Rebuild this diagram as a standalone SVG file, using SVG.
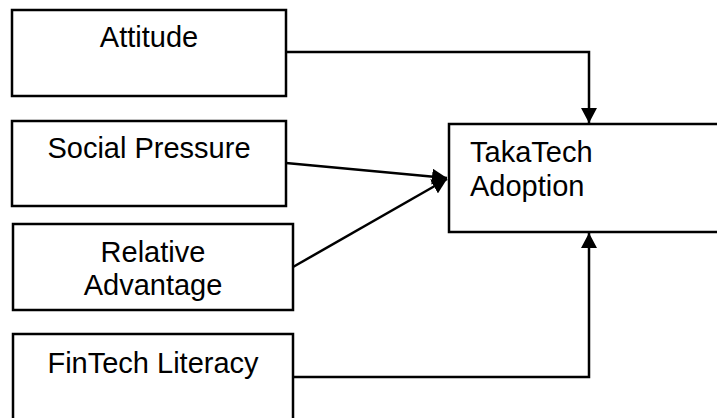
<svg xmlns="http://www.w3.org/2000/svg" width="717" height="418" viewBox="0 0 717 418">
<style>
.box{fill:#fff;stroke:#000;stroke-width:2.5}
.t{font-family:"Liberation Sans",Arial,sans-serif;font-size:29px;fill:#000}
.c{text-anchor:middle}
.ln{fill:none;stroke:#000;stroke-width:2.5}
</style>
<defs>
<marker id="ah" markerWidth="15" markerHeight="16" refX="15" refY="8" orient="auto" markerUnits="userSpaceOnUse">
<path d="M0,0 L15,8 L0,16 Z" fill="#000"/>
</marker>
</defs>
<rect width="717" height="418" fill="#fff"/>
<g id="connectors">
<path class="ln" d="M286,52 H589 V123" marker-end="url(#ah)"/>
<path class="ln" d="M293,377 H589 V233" marker-end="url(#ah)"/>
<path class="ln" d="M286,163 L447,178" marker-end="url(#ah)"/>
<path class="ln" d="M293,267 L447,179" marker-end="url(#ah)"/>
</g>
<g id="attitude">
<rect class="box" x="12" y="10" width="274" height="86"/>
<text class="t c" x="149" y="47">Attitude</text>
</g>
<g id="social-pressure">
<rect class="box" x="12" y="121" width="274" height="85"/>
<text class="t c" x="149" y="158">Social Pressure</text>
</g>
<g id="relative-advantage">
<rect class="box" x="13" y="224" width="280" height="86"/>
<text class="t c" x="153" y="262">Relative</text>
<text class="t c" x="153" y="295">Advantage</text>
</g>
<g id="fintech-literacy">
<rect class="box" x="13" y="334" width="280" height="100"/>
<text class="t c" x="153" y="373">FinTech Literacy</text>
</g>
<g id="takatech-adoption">
<rect class="box" x="449" y="124" width="290" height="108"/>
<text class="t" x="470" y="162">TakaTech</text>
<text class="t" x="470" y="196">Adoption</text>
</g>
</svg>
